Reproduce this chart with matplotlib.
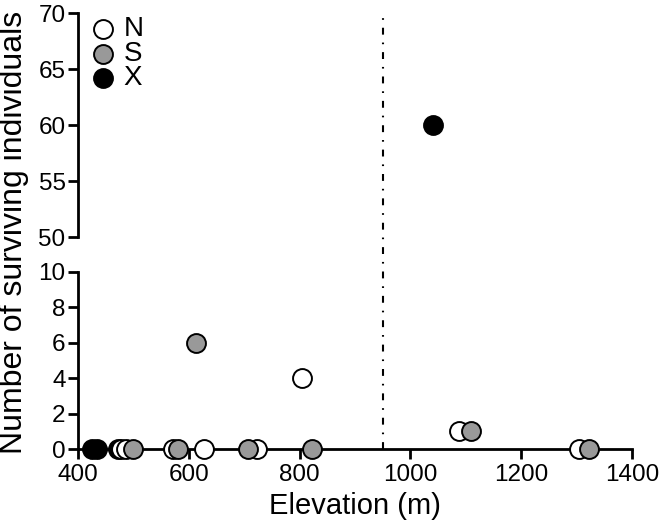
import numpy as np
import matplotlib.pyplot as plt

plt.rcParams['font.family'] = ['Liberation Sans', 'DejaVu Sans']

# Elevation (m) and number of surviving individuals per aspect
n_elev = [478, 486, 572, 628, 723, 805, 1087, 1304]
n_count = [0, 0, 0, 0, 0, 4, 1, 0]
s_elev = [499, 581, 613, 707, 823, 1109, 1322]
s_count = [0, 0, 6, 0, 0, 1, 0]
x_elev = [425, 435, 472, 1040]
x_count = [0, 0, 0, 60]

series = [('N', n_elev, n_count, 'white', 3),
          ('S', s_elev, s_count, '#999999', 4),
          ('X', x_elev, x_count, 'black', 2)]

threshold = 950
xticks = [400, 600, 800, 1000, 1200, 1400]

fig = plt.figure(figsize=(6.65, 5.3), dpi=100)
ax_top = fig.add_axes([0.1173, 0.5528, 0.833, 0.4226])
ax_bot = fig.add_axes([0.1173, 0.1528, 0.833, 0.334])

for ax in (ax_top, ax_bot):
    for name, ex, cnt, col, z in series:
        ax.scatter(ex, cnt, s=185, facecolor=col, edgecolor='black',
                   linewidth=1.4, zorder=z, clip_on=False, label=name)
    ax.set_xlim(400, 1400)
    ax.spines['top'].set_visible(False)
    ax.spines['right'].set_visible(False)
    ax.spines['left'].set_linewidth(2)
    ax.spines['bottom'].set_linewidth(2)
    ax.tick_params(width=2, length=7, labelsize=17.5, pad=2)

ax_top.set_ylim(50, 70)
ax_top.set_yticks(np.arange(50, 71, 5))
ax_top.spines['bottom'].set_visible(False)
ax_top.set_xticks([])

ax_bot.set_ylim(0, 10)
ax_bot.set_yticks(np.arange(0, 11, 2))
ax_bot.set_xticks(xticks)
ax_bot.tick_params(axis='x', pad=4)
ax_bot.set_xlabel('Elevation (m)', fontsize=21, labelpad=4)

# dash-dot threshold line running through both panels
ax_bot.plot([threshold, threshold], [0, 24.6], color='black', lw=1.5,
            linestyle=(0, (3.3, 3.8, 0.8, 3.8)), clip_on=False, zorder=1)

ax_top.legend(loc='upper left', bbox_to_anchor=(-0.01, 1.06), frameon=False,
              fontsize=20, handletextpad=0.25, labelspacing=-0.05,
              borderaxespad=0.2, handlelength=1.0)

fig.text(0.021, 0.562, 'Number of surviving individuals', rotation=90,
         fontsize=23, ha='center', va='center')

fig.savefig('out.png', dpi=100)
